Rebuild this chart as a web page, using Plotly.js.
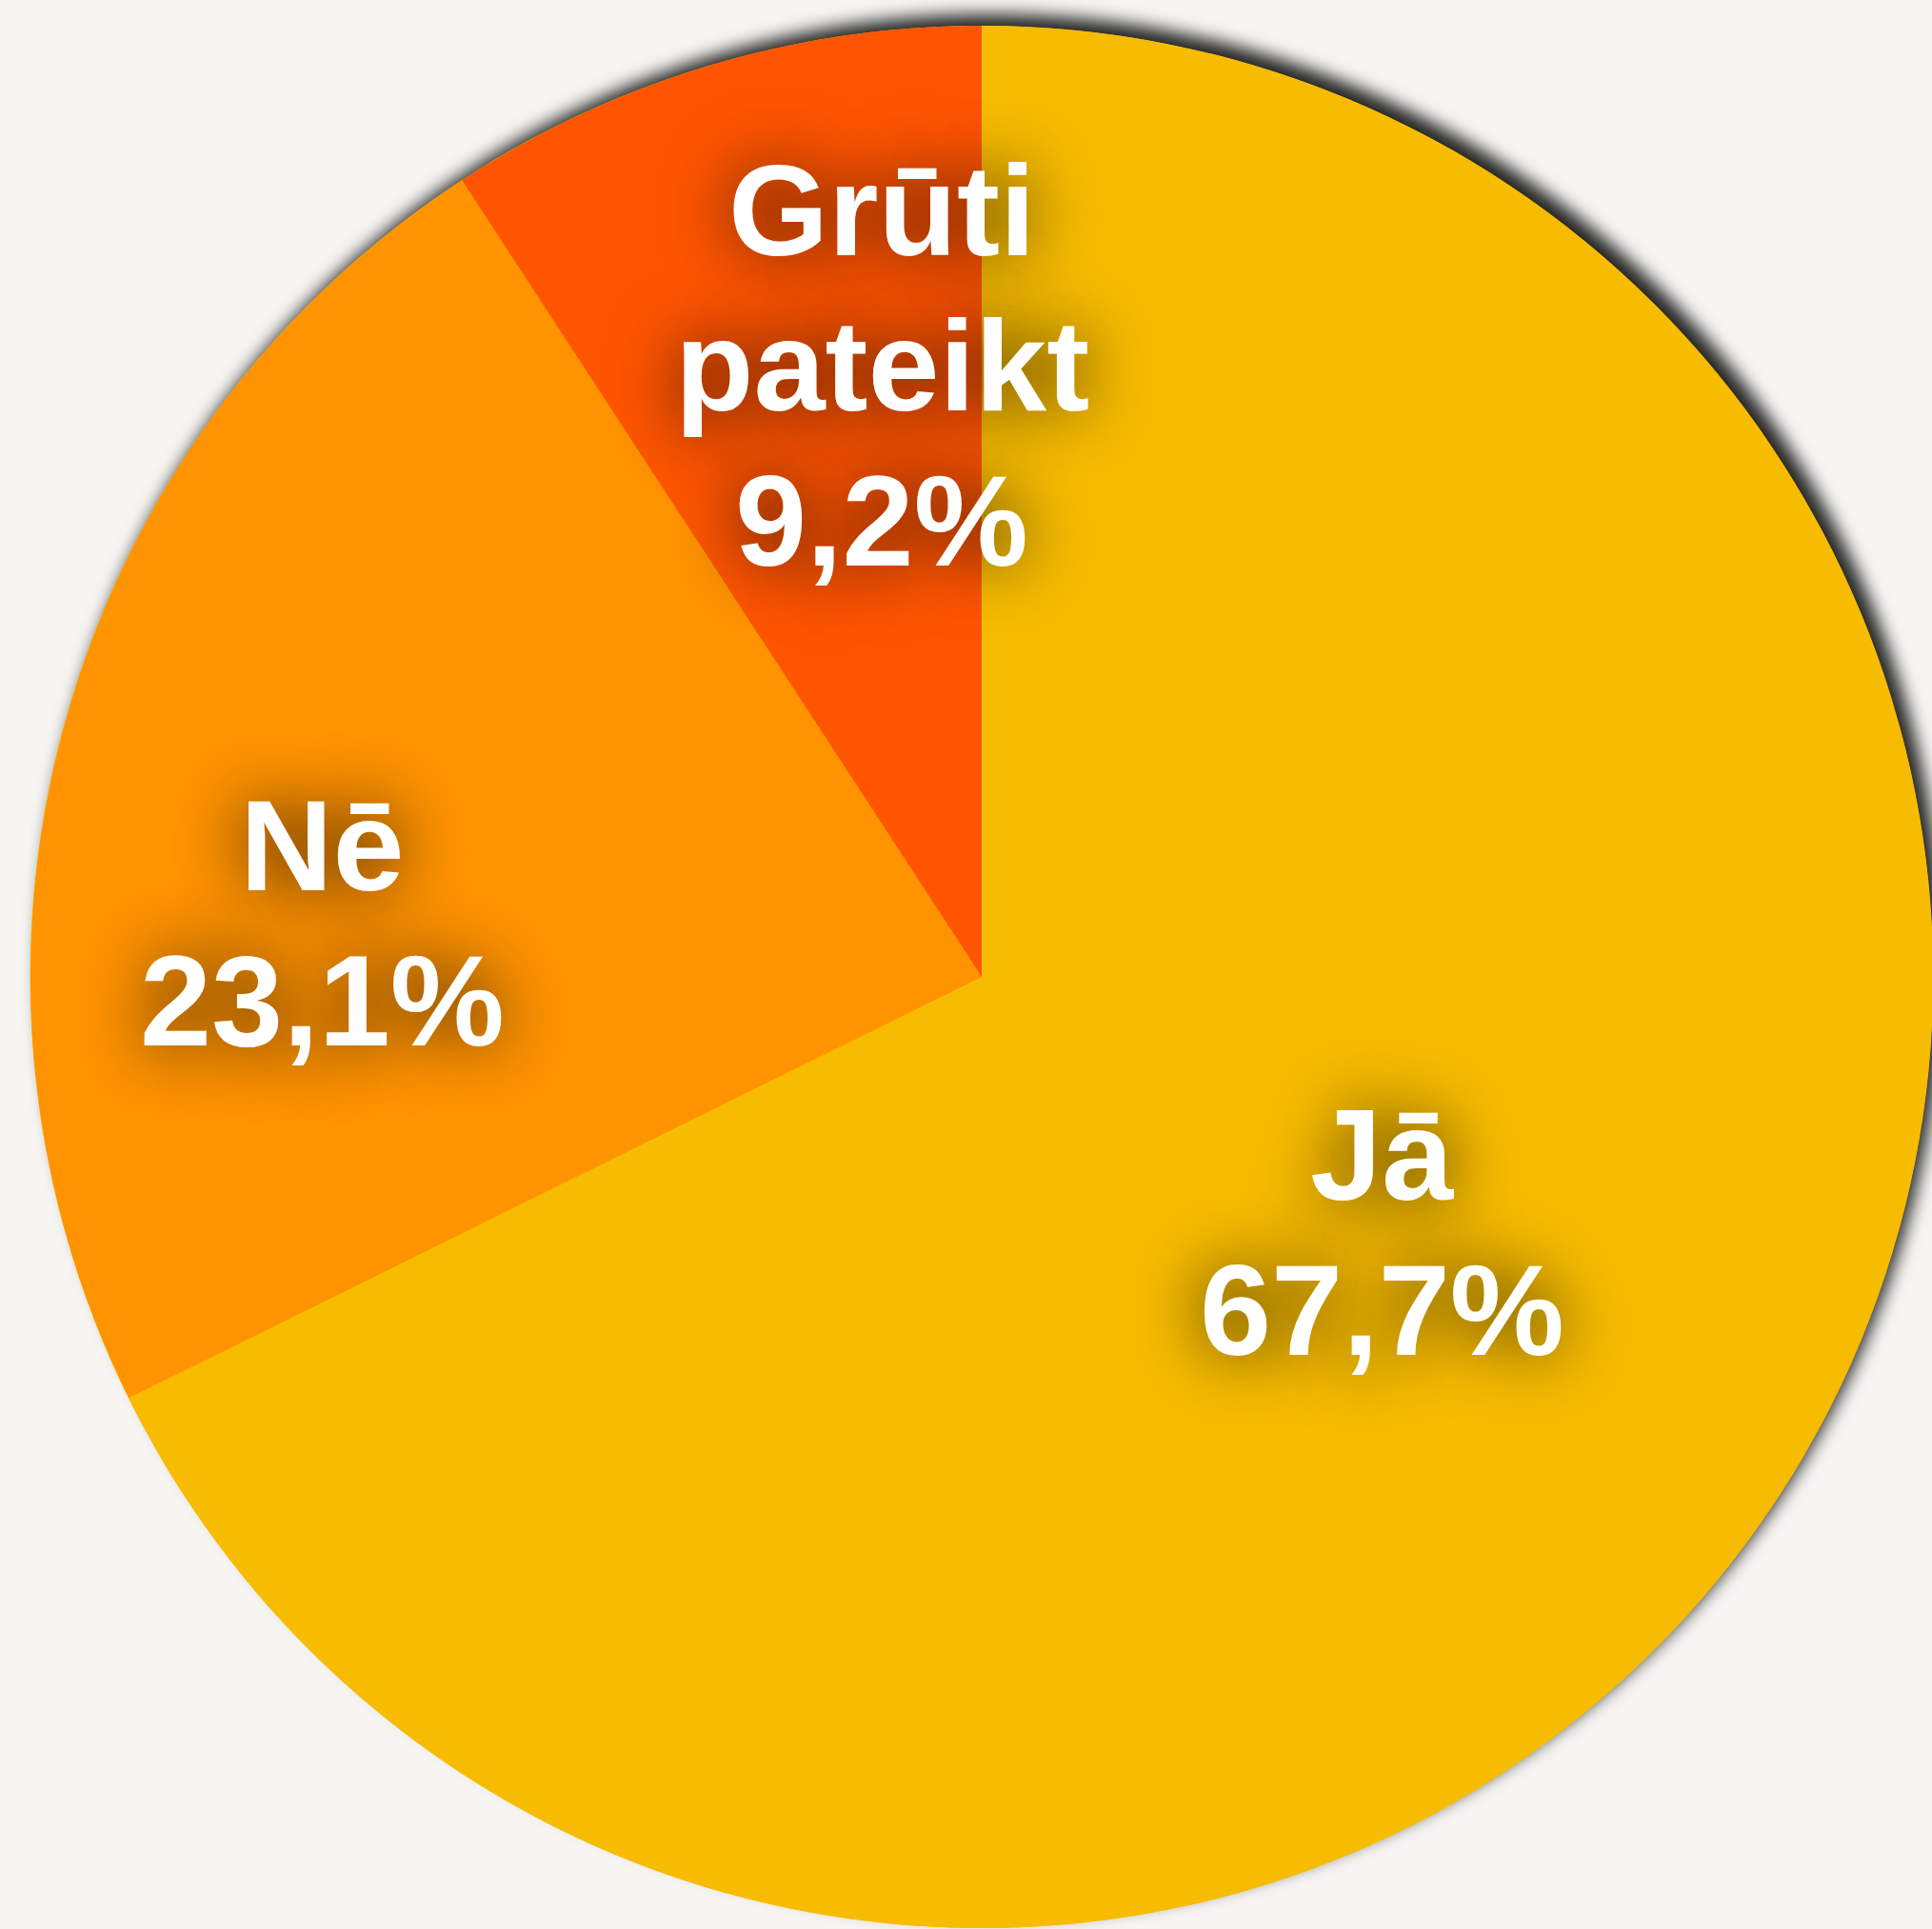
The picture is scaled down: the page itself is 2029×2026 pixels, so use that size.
<!DOCTYPE html>
<html>
<head>
<meta charset="utf-8">
<script src="https://cdn.plot.ly/plotly-3.0.1.min.js"></script>
<style>
  html, body { margin: 0; padding: 0; background: #F6F5F1; overflow: hidden; }
  #chart { width: 2100px; height: 2100px; }
  .shadowpie { filter: drop-shadow(10px -12px 9px rgba(0,0,0,0.85)); }
  .annotation-text { text-shadow: 0px 0px 70px rgba(0,0,0,0.85); }
</style>
</head>
<body>
<div id="chart"></div>
<script>
// Data
const categories = ["Jā", "Nē", "Grūti pateikt"];
const labelLines = [["Jā"], ["Nē"], ["Grūti", "pateikt"]];
const shares = [67.7, 23.1, 9.2];
const colors = ["#F7BC00", "#FF9300", "#FF5500"];

// Label placement style (radius as a fraction of pie radius, angle offset from slice bisector in degrees)
const labelRadius = [0.50, 0.695, 0.651];
const labelAngleShift = [0.7, -10.7, 7.3];
const FONT_SIZE = 135;
const LINE_HEIGHT = 163;

const total = shares.reduce((a, b) => a + b, 0);

const shadowTrace = {
  type: "pie",
  values: [total],
  labels: ["all"],
  marker: { colors: ["#F7BC00"], line: { width: 0 } },
  textinfo: "none",
  hoverinfo: "skip",
  sort: false,
  showlegend: false
};

const mainTrace = {
  type: "pie",
  labels: categories,
  values: shares,
  sort: false,
  direction: "clockwise",
  rotation: 0,
  marker: { colors: colors, line: { width: 0 } },
  textinfo: "none",
  hoverinfo: "skip",
  showlegend: false
};

// Build label annotations from the data (slice bisector angles)
const fmt = v => v.toFixed(1).replace(".", ",") + "%";
const annotations = [];
let cum = 0;
shares.forEach((v, i) => {
  const mid = (cum + v / 2) / total * 360;
  cum += v;
  const theta = (mid + labelAngleShift[i]) * Math.PI / 180;
  const f = labelRadius[i];
  const x = 0.5 + 0.5 * f * Math.sin(theta);
  const y = 0.5 + 0.5 * f * Math.cos(theta);
  const lines = labelLines[i].concat([fmt(v)]);
  const n = lines.length;
  lines.forEach((t, k) => {
    annotations.push({
      xref: "paper", yref: "paper", x: x, y: y,
      xanchor: "center", yanchor: "middle",
      yshift: -((k - (n - 1) / 2) * LINE_HEIGHT),
      text: t, showarrow: false,
      font: { family: "Liberation Sans, Arial, sans-serif", size: FONT_SIZE, color: "#FFFFFF", weight: 700 }
    });
  });
});

const layout = {
  width: 2100,
  height: 2100,
  margin: { l: 32, r: 70, t: 27, b: 75 },
  paper_bgcolor: "#F6F5F1",
  plot_bgcolor: "#F6F5F1",
  separators: ", ",
  showlegend: false,
  annotations: annotations
};

Plotly.newPlot("chart", [shadowTrace, mainTrace], layout, { staticPlot: true, displayModeBar: false }).then(() => {
  const traces = document.querySelectorAll(".pielayer .trace");
  if (traces.length) traces[0].classList.add("shadowpie");
});
</script>
</body>
</html>
